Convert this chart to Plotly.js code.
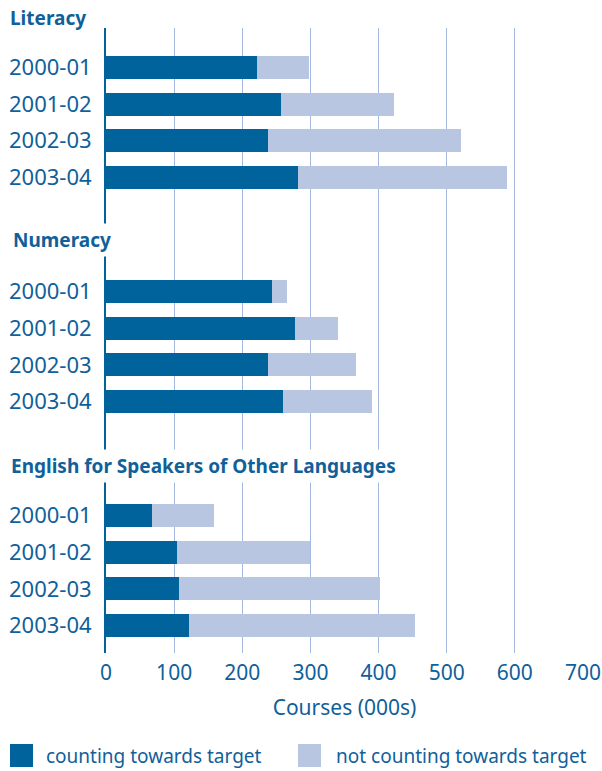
<!DOCTYPE html>
<html>
<head>
<meta charset="utf-8">
<script src="https://cdn.plot.ly/plotly-3.0.1.min.js"></script>
<style>html,body{margin:0;padding:0;background:#fff;}#chart{width:602px;height:771px;}</style>
</head>
<body>
<div id="chart"></div>
<script>
// ---- data ----
var groups = ["Literacy", "Numeracy", "English for Speakers of Other Languages"];
var years = ["2000-01", "2001-02", "2002-03", "2003-04"];
var literacyCounting = [222, 257, 238, 282];
var literacyNotCounting = [76, 166, 283, 306];
var numeracyCounting = [244, 277, 238, 260];
var numeracyNotCounting = [22, 63, 129, 130];
var esolCounting = [68, 104, 107, 122];
var esolNotCounting = [90, 196, 295, 331];
var seriesNames = ["counting towards target", "not counting towards target"];
var xTicks = [0, 100, 200, 300, 400, 500, 600, 700];
var xTitle = "Courses (000s)";

// ---- style ----
var DARK = "#00639c";
var LIGHT = "#b8c6e1";
var GRID = "#a5b8de";
var TEXT = "#10609a";
var FONT = "Noto Sans, sans-serif";
var groupOffset = 6.12;

var counting = [literacyCounting, numeracyCounting, esolCounting];
var notCounting = [literacyNotCounting, numeracyNotCounting, esolNotCounting];

var yPos = [], yLab = [], dark = [], light = [];
for (var g = 0; g < groups.length; g++) {
  for (var i = 0; i < years.length; i++) {
    yPos.push(g * groupOffset + i);
    yLab.push(years[i]);
    dark.push(counting[g][i]);
    light.push(notCounting[g][i]);
  }
}

var traces = [
  {type: "bar", orientation: "h", name: seriesNames[0], y: yPos, x: dark,
   marker: {color: DARK, line: {width: 0}}, width: 0.63, hoverinfo: "skip", showlegend: false},
  {type: "bar", orientation: "h", name: seriesNames[1], y: yPos, x: light,
   marker: {color: LIGHT, line: {width: 0}}, width: 0.63, hoverinfo: "skip", showlegend: false}
];

var headerY = [1.016, 0.6608, 0.2992];
var headerX = [-0.209, -0.203, -0.207];
var annotations = [];
for (var g = 0; g < groups.length; g++) {
  annotations.push({
    text: "<b>" + groups[g] + "</b>", xref: "paper", yref: "paper",
    x: headerX[g], y: headerY[g], xanchor: "left", yanchor: "middle",
    showarrow: false, bgcolor: "#ffffff", borderpad: 3,
    font: {family: FONT, size: 19, color: TEXT}
  });
}
// manual legend (large square swatches)
var shapes = [
  {type: "rect", xref: "paper", yref: "paper", x0: -0.2013, x1: -0.153, y0: -0.1824, y1: -0.1456,
   fillcolor: DARK, line: {width: 0}},
  {type: "rect", xref: "paper", yref: "paper", x0: 0.4025, x1: 0.4507, y0: -0.1824, y1: -0.1456,
   fillcolor: LIGHT, line: {width: 0}}
];
annotations.push({text: seriesNames[0], xref: "paper", yref: "paper", x: -0.1300, y: -0.164,
  xanchor: "left", yanchor: "middle", showarrow: false, font: {family: FONT, size: 19, color: TEXT}});
annotations.push({text: seriesNames[1], xref: "paper", yref: "paper", x: 0.4780, y: -0.164,
  xanchor: "left", yanchor: "middle", showarrow: false, font: {family: FONT, size: 19, color: TEXT}});

var layout = {
  width: 602, height: 771,
  margin: {l: 106, r: 19, t: 28, b: 118},
  paper_bgcolor: "#ffffff", plot_bgcolor: "#ffffff",
  barmode: "stack",
  showlegend: false,
  font: {family: FONT, color: TEXT, size: 21},
  xaxis: {
    range: [0, 700], tickvals: xTicks, ticks: "", showgrid: true, gridcolor: GRID, gridwidth: 1,
    zeroline: false, showline: false, ticklabelstandoff: 5,
    tickfont: {family: FONT, size: 21, color: TEXT},
    title: {text: xTitle, font: {family: FONT, size: 21, color: TEXT}, standoff: 15},
    fixedrange: true
  },
  yaxis: {
    range: [2 * groupOffset + 3.75, -1.08], tickvals: yPos, ticktext: yLab, ticks: "",
    showgrid: false, zeroline: false, showline: true, linecolor: DARK, linewidth: 2,
    ticklabelstandoff: 8, tickfont: {family: FONT, size: 22, color: TEXT}, fixedrange: true
  },
  annotations: annotations,
  shapes: shapes
};

Plotly.newPlot("chart", traces, layout, {displayModeBar: false, staticPlot: true});
</script>
</body>
</html>
